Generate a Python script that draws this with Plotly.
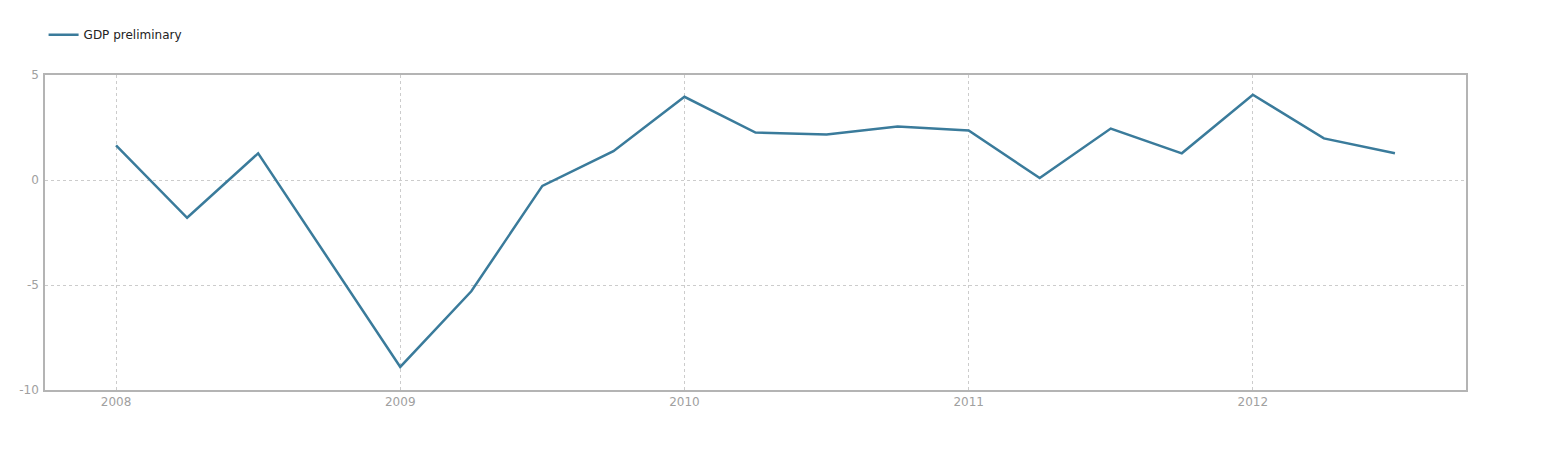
import plotly.graph_objects as go

quarters = [2008.0, 2008.25, 2008.5, 2008.75, 2009.0, 2009.25, 2009.5, 2009.75,
            2010.0, 2010.25, 2010.5, 2010.75, 2011.0, 2011.25, 2011.5, 2011.75,
            2012.0, 2012.25, 2012.5]
gdp_preliminary = [1.65, -1.8, 1.27, -3.8, -8.9, -5.3, -0.28, 1.37,
                   3.96, 2.26, 2.17, 2.55, 2.36, 0.09, 2.45, 1.27,
                   4.06, 1.98, 1.27]
x_tick_vals = [2008, 2009, 2010, 2011, 2012]
x_tick_text = ["2008", "2009", "2010", "2011", "2012"]
y_tick_vals = [-10, -5, 0, 5]
y_tick_text = ["-10", "-5", "0", "5"]

fig = go.Figure()
fig.add_trace(go.Scatter(
    x=quarters, y=gdp_preliminary, mode="lines", name="GDP preliminary",
    line=dict(color="#3a7b9b", width=2.5),
))

fig.update_layout(
    width=1541, height=453,
    margin=dict(l=37, r=83, t=61, b=71),
    plot_bgcolor="white", paper_bgcolor="white",
    font=dict(family="DejaVu Sans, Verdana, sans-serif", size=12, color="#999999"),
    showlegend=True,
    legend=dict(orientation="h", x=-0.001, y=1.128, xanchor="left", yanchor="middle",
                font=dict(size=12, color="#222222"), itemwidth=30,
                bgcolor="rgba(0,0,0,0)"),
    xaxis=dict(range=[2007.75, 2012.75], tickvals=x_tick_vals, ticktext=x_tick_text,
               showgrid=True, gridcolor="#cccccc", griddash="dot", gridwidth=1,
               zeroline=False, showline=True, linecolor="#b4b4b4", linewidth=1.5,
               mirror=True, ticks="", tickfont=dict(size=12, color="#a0a0a0")),
    yaxis=dict(range=[-10, 5], tickvals=y_tick_vals, ticktext=y_tick_text,
               showgrid=True, gridcolor="#cccccc", griddash="dot", gridwidth=1,
               zeroline=False, showline=True, linecolor="#b4b4b4", linewidth=1.5,
               mirror=True, ticks="", ticklabelstandoff=2,
               tickfont=dict(size=12, color="#a0a0a0")),
)

fig.write_html("out.html")
